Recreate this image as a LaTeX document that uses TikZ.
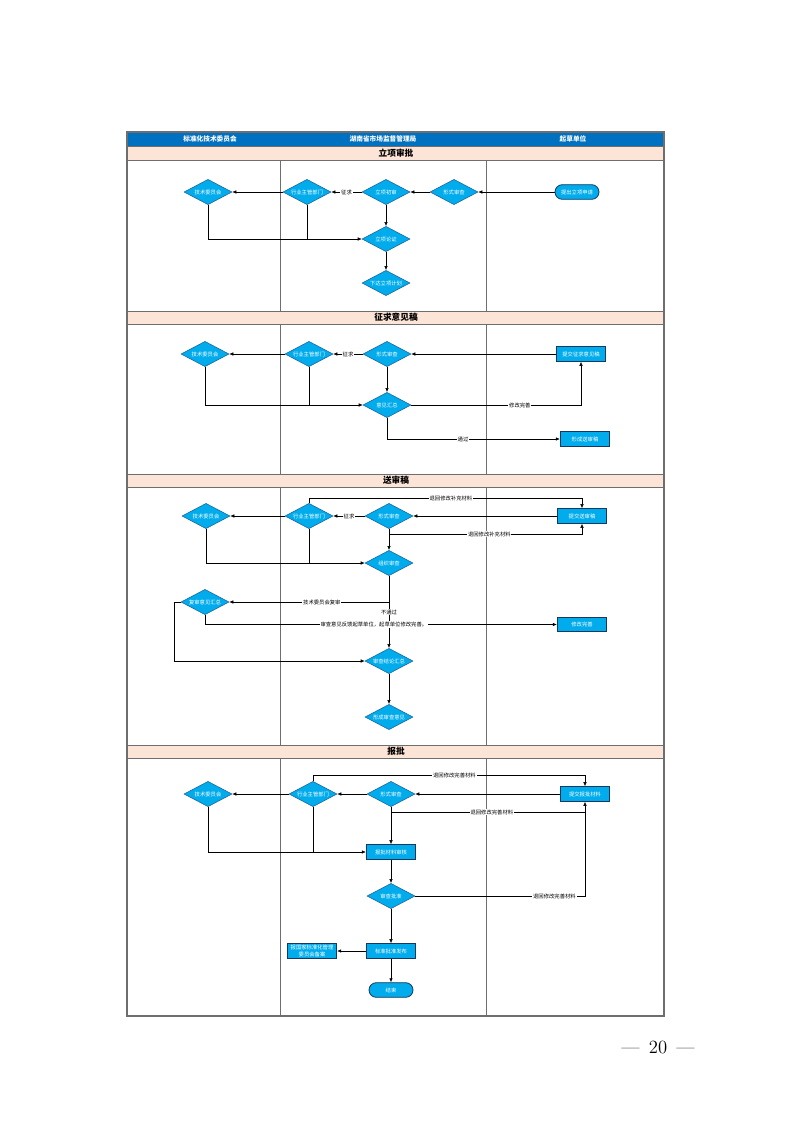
\documentclass[tikz,border=0pt]{standalone}
\usepackage{fontspec}
\newfontfamily\cjk{Noto Sans CJK SC}
\usepackage{tikz}
\usetikzlibrary{arrows.meta,shapes.geometric}
\definecolor{hdrblue}{RGB}{0,112,192}
\definecolor{peach}{RGB}{252,229,214}
\definecolor{nodefill}{RGB}{0,172,236}
\definecolor{diaedge}{RGB}{30,95,150}
\definecolor{boxedge}{RGB}{25,55,95}
\definecolor{framegray}{RGB}{110,110,110}

\begin{document}
\begin{tikzpicture}[x=0.75pt,y=-0.75pt,
  font=\cjk\fontsize{4}{4.6}\selectfont,
  >={Latex[length=3pt,width=2.6pt]},
  line width=0.4pt,
  dia/.style={shape=diamond,aspect=2,draw=diaedge,fill=nodefill,text=white,minimum width=36pt,minimum height=19pt,inner sep=0pt},
  box/.style={shape=rectangle,draw=boxedge,line width=0.7pt,fill=nodefill,text=white,minimum width=37pt,minimum height=11pt,inner sep=1pt},
  term/.style={shape=rectangle,rounded corners=5.5pt,draw=boxedge,line width=0.6pt,fill=nodefill,text=white,minimum width=33pt,minimum height=11pt},
  lbl/.style={fill=white,inner sep=0.6pt,text=black},
  hdr/.style={text=white,font=\cjk\bfseries\fontsize{5}{6}\selectfont},
  sec/.style={text=black,font=\cjk\bfseries\fontsize{6.5}{7.5}\selectfont}]
\useasboundingbox (0,0) rectangle (793,1122);

\fill [hdrblue] (127,132) rectangle (664,146);
\foreach \ya/\yb in {146/160,311/324,474/487,745/758}
  \draw [framegray,fill=peach,line width=0.5pt] (127,\ya) rectangle (664,\yb);
\foreach \ya/\yb in {160/311,324/474,487/745,758/1016} {
  \draw [framegray,line width=0.6pt] (280,\ya) -- (280,\yb);
  \draw [framegray,line width=0.6pt] (486,\ya) -- (486,\yb);
}
\draw [framegray,line width=0.8pt] (127,132) rectangle (664,1016);

\node (h1) at (210,139) [hdr] {标准化技术委员会};
\node (h2) at (383,139) [hdr] {湖南省市场监督管理局};
\node (h3) at (573,139) [hdr] {起草单位};
\node (t1) at (396,153) [sec] {立项审批};
\node (t2) at (396,317.5) [sec] {征求意见稿};
\node (t3) at (396,480.5) [sec] {送审稿};
\node (t4) at (396,751.5) [sec] {报批};

\node (s1) at (577,192) [term] {提出立项申请};
\node (a1) at (454,192) [dia] {形式审查};
\node (a2) at (386,192) [dia] {立项初审};
\node (a3) at (307,192) [dia] {行业主管部门};
\node (a4) at (208,192) [dia] {技术委员会};
\node (a5) at (386,239) [dia] {立项论证};
\node (a6) at (386,283) [dia] {下达立项计划};
\draw [->] (s1) -- (a1);
\draw [->] (a1) -- (a2);
\draw [->] (a2) -- (a3) node[midway,lbl] {征求};
\draw [->] (a3) -- (a4);
\draw [->] (a2) -- (a5);
\draw [->] (a4) |- (a5);
\draw (a3.south) -- (a3.south |- a5.west);
\draw [->] (a5) -- (a6);

\node (b1) at (581,354) [box] {提交征求意见稿};
\node (b2) at (387,354) [dia] {形式审查};
\node (b3) at (309,354) [dia] {行业主管部门};
\node (b4) at (205,354) [dia] {技术委员会};
\node (b5) at (387,405) [dia] {意见汇总};
\node (b6) at (585,439) [box] {形成送审稿};
\draw [->] (b1) -- (b2);
\draw [->] (b2) -- (b3) node[midway,lbl] {征求};
\draw [->] (b3) -- (b4);
\draw [->] (b2) -- (b5);
\draw [->] (b4) |- (b5);
\draw (b3.south) -- (b3.south |- b5.west);
\draw [->] (b5) -| (b1) node[pos=0.32,lbl] {修改完善};
\draw [->] (b5) |- (b6) node[pos=0.72,lbl] {通过};

\node (c1) at (582,516) [box] {提交送审稿};
\node (c2) at (389,516) [dia] {形式审查};
\node (c3) at (309,516) [dia] {行业主管部门};
\node (c4) at (206,516) [dia] {技术委员会};
\node (c5) at (389,563) [dia] {组织审查};
\node (c6) at (205,602) [dia] {复审意见汇总};
\node (c7) at (582,624.5) [box] {修改完善};
\node (c8) at (389,661) [dia] {审查结论汇总};
\node (c9) at (389,717) [dia] {形成审查意见};
\coordinate (c1t) at (582,498);
\coordinate (c2b) at (389,534);
\coordinate (c5b) at (389,602);
\coordinate (c6l) at (174,602);
\draw [->] (c1) -- (c2);
\draw [->] (c2) -- (c3) node[midway,lbl] {征求};
\draw [->] (c3) -- (c4);
\draw [->] (c3.north) |- (c1t) node[pos=0.76,lbl] {退回修改补充材料} -- (c1.north);
\draw [->] (c2b) -| (c1) node[pos=0.26,lbl] {退回修改补充材料};
\draw [->] (c2) -- (c5);
\draw [->] (c4) |- (c5);
\draw (c3.south) -- (c3.south |- c5.west);
\draw [->] (c5) -- (c8) node[midway,lbl] {不通过};
\draw [->] (c5b) -- (c6) node[pos=0.42,lbl] {技术委员会复审};
\draw [->] (c6.west) -- (c6l) |- (c8.west);
\draw [->] (c6) |- (c7) node[pos=0.74,lbl] {审查意见反馈起草单位，起草单位修改完善。};
\draw [->] (c8) -- (c9);

\node (d1) at (585,794) [box] {提交报批材料};
\node (d2) at (391,794) [dia] {形式审查};
\node (d3) at (313,794) [dia] {行业主管部门};
\node (d4) at (208,794) [dia] {技术委员会};
\node (d5) at (391,852) [box] {报批材料审核};
\node (d6) at (391,896) [dia] {审查批准};
\node (d7) at (391,951) [box] {标准批准发布};
\node (d8) at (312,951) [box,align=center] {报国家标准化管理\\委员会备案};
\node (d9) at (391,990) [term] {结束};
\coordinate (d1t) at (585,775);
\coordinate (d2b) at (391,812);
\coordinate (d1c) at (585,812);
\draw [->] (d1) -- (d2);
\draw [->] (d2) -- (d3);
\draw [->] (d3) -- (d4);
\draw [->] (d3.north) |- (d1t) node[pos=0.76,lbl] {退回修改完善材料} -- (d1.north);
\draw [->] (d2b) -| (d1) node[pos=0.26,lbl] {退回修改完善材料};
\draw [->] (d2) -- (d5);
\draw [->] (d4) |- (d5);
\draw (d3.south) -- (d3.south |- d5.west);
\draw [->] (d5) -- (d6);
\draw (d6) -| (d1c) node[pos=0.41,lbl] {退回修改完善材料};
\draw [->] (d6) -- (d7);
\draw [->] (d7) -- (d8);
\draw [->] (d7) -- (d9);

\node (pg) at (658,1047) [font=\fontsize{14}{16}\selectfont] {---\enspace 20\enspace ---};
\end{tikzpicture}
\end{document}
